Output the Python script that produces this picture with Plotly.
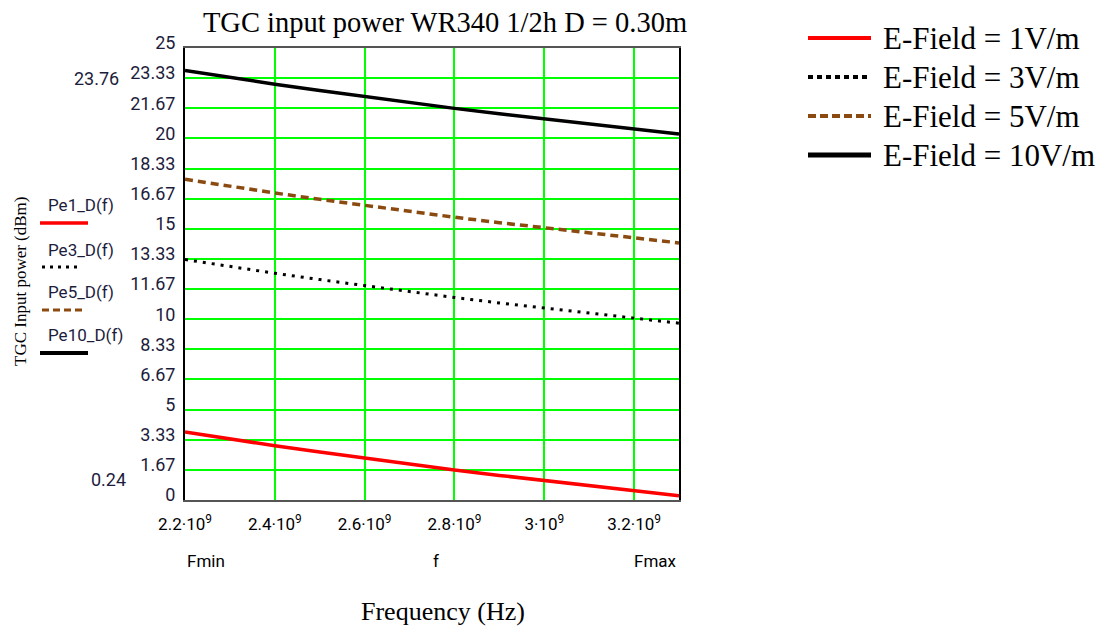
import plotly.graph_objects as go

# ---- data ----
freq_hz = [2.2e9, 2.3e9, 2.4e9, 2.5e9, 2.6e9, 2.7e9, 2.8e9, 2.9e9, 3.0e9, 3.1e9, 3.2e9, 3.3e9]
pe1_dbm = [3.76, 3.37, 3.00, 2.65, 2.31, 1.98, 1.66, 1.36, 1.07, 0.78, 0.50, 0.24]
pe3_dbm = [13.30, 12.91, 12.54, 12.19, 11.85, 11.52, 11.20, 10.90, 10.61, 10.32, 10.04, 9.78]
pe5_dbm = [17.74, 17.35, 16.98, 16.63, 16.29, 15.96, 15.64, 15.34, 15.05, 14.76, 14.48, 14.22]
pe10_dbm = [23.76, 23.37, 23.00, 22.65, 22.31, 21.98, 21.66, 21.36, 21.07, 20.78, 20.50, 20.24]

series_names = ["E-Field = 1V/m", "E-Field = 3V/m", "E-Field = 5V/m", "E-Field = 10V/m"]
inner_labels = ["Pe1_D(f)", "Pe3_D(f)", "Pe5_D(f)", "Pe10_D(f)"]

x_tickvals = [2.2e9, 2.4e9, 2.6e9, 2.8e9, 3.0e9, 3.2e9]
x_ticktext = ["2.2·10<sup>9</sup>", "2.4·10<sup>9</sup>", "2.6·10<sup>9</sup>",
              "2.8·10<sup>9</sup>", "3·10<sup>9</sup>", "3.2·10<sup>9</sup>"]
y_tickvals = [0, 1.6667, 3.3333, 5, 6.6667, 8.3333, 10, 11.6667, 13.3333, 15,
              16.6667, 18.3333, 20, 21.6667, 23.3333, 25]
y_ticktext = ["0", "1.67", "3.33", "5", "6.67", "8.33", "10", "11.67", "13.33", "15",
              "16.67", "18.33", "20", "21.67", "23.33", "25"]

RED = "#ff0000"
BROWN = "#8b4a10"
BLACK = "#000000"
GREEN = "#00ff00"
SERIF = "Liberation Serif"
SANS = "Roboto"
NAVY = "#1c1c3c"

series = [pe1_dbm, pe3_dbm, pe5_dbm, pe10_dbm]
plot_styles = [dict(color=RED, width=3.5),
               dict(color=BLACK, width=3, dash="3px,6px"),
               dict(color=BROWN, width=3.5, dash="8px,5px"),
               dict(color=BLACK, width=3.5)]
legend_styles = [dict(color=RED, width=4),
                 dict(color=BLACK, width=4, dash="5px,4px"),
                 dict(color=BROWN, width=4, dash="8px,4px"),
                 dict(color=BLACK, width=5)]
inner_styles = [dict(color=RED, width=3.5),
                dict(color=BLACK, width=3, dash="3px,5px"),
                dict(color=BROWN, width=3, dash="7px,4px"),
                dict(color=BLACK, width=4)]

fig = go.Figure()
for name, vals, st in zip(series_names, series, plot_styles):
    fig.add_trace(go.Scatter(x=freq_hz, y=vals, mode="lines", name=name,
                             line=st, showlegend=False))


def px_x(px):
    return (px - 185) / 494.0


def px_y(py):
    return (500 - py) / 452.0


annotations = [
    dict(text="Frequency (Hz)", x=px_x(443), y=px_y(611), font=dict(family=SERIF, size=26, color=BLACK)),
    dict(text="TGC Input power (dBm)", x=px_x(20), y=px_y(281), textangle=-90,
         font=dict(family=SERIF, size=17, color=BLACK)),
    dict(text="Fmin", x=0, xanchor="left", y=px_y(561), font=dict(family=SANS, size=17, color=BLACK)),
    dict(text="f", x=px_x(436), y=px_y(561), font=dict(family=SANS, size=17, color=BLACK)),
    dict(text="Fmax", x=1, xanchor="right", y=px_y(561), font=dict(family=SANS, size=17, color=BLACK)),
    dict(text="23.76", x=px_x(96), y=px_y(78), font=dict(family=SANS, size=18, color=NAVY)),
    dict(text="0.24", x=px_x(108), y=px_y(479), font=dict(family=SANS, size=18, color=NAVY)),
]
label_y = [205, 250, 292, 335]
for lbl, py in zip(inner_labels, label_y):
    annotations.append(dict(text=lbl, x=px_x(46), xanchor="left", y=px_y(py),
                            font=dict(family=SANS, size=17, color=NAVY)))

legend_rows = [38, 77, 116, 155]
for name, py in zip(series_names, legend_rows):
    annotations.append(dict(text=name, x=px_x(881), xanchor="left", y=px_y(py),
                            font=dict(family=SERIF, size=31, color=BLACK)))

for a in annotations:
    a.update(xref="paper", yref="paper", showarrow=False)
    a.setdefault("xanchor", "center")
    a.setdefault("yanchor", "middle")

shapes = []
inner_rows = [(40, 88, 223), (42, 80, 267), (42, 84, 310), (40, 88, 353)]
for (x0, x1, py), st in zip(inner_rows, inner_styles):
    shapes.append(dict(x0=px_x(x0), x1=px_x(x1), y0=px_y(py), y1=px_y(py), line=st))
for py, st in zip(legend_rows, legend_styles):
    shapes.append(dict(x0=px_x(808), x1=px_x(871), y0=px_y(py), y1=px_y(py), line=st))
for s in shapes:
    s.update(type="line", xref="paper", yref="paper")

fig.update_layout(
    width=1110, height=630,
    margin=dict(l=185, r=431, t=48, b=130),
    paper_bgcolor="white", plot_bgcolor="white",
    title=dict(text="TGC input power WR340 1/2h D = 0.30m", x=445 / 1110, xanchor="center",
               y=1 - 22 / 630, yanchor="middle", font=dict(family=SERIF, size=28.5, color=BLACK)),
    showlegend=False,
    annotations=annotations,
    shapes=shapes,
)
fig.update_xaxes(range=[2.2e9, 3.3e9], tickvals=x_tickvals, ticktext=x_ticktext,
                 showgrid=True, gridcolor=GREEN, gridwidth=2,
                 showline=True, linecolor="#555555", linewidth=2, mirror=True,
                 ticks="", ticklabelstandoff=8,
                 tickfont=dict(family=SANS, size=17, color=BLACK), zeroline=False)
fig.update_yaxes(range=[0, 25], tickvals=y_tickvals, ticktext=y_ticktext,
                 showgrid=True, gridcolor=GREEN, gridwidth=2,
                 showline=True, linecolor=BLACK, linewidth=2, mirror=True,
                 ticks="", ticklabelstandoff=4, ticklabelshift=-5,
                 tickfont=dict(family=SANS, size=18, color=NAVY), zeroline=False)

fig.write_html("out.html")
